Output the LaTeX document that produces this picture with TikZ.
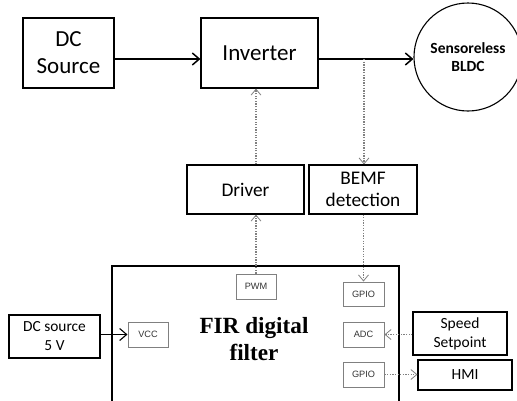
\documentclass[tikz,border=0pt]{standalone}
\usepackage{fontspec}
\setmainfont{Carlito}
\newfontfamily\smallfont{Liberation Sans}
\newfontfamily\firfont{Liberation Serif}
\usetikzlibrary{arrows.meta}
\definecolor{dotgray}{gray}{0.5}
\definecolor{pingray}{gray}{0.5}
\tikzset{
  blk/.style={draw=black, line width=1.1pt, rectangle, inner sep=0pt, align=center, font=\fontsize{19.3}{22}\selectfont},
  pin/.style={draw=pingray, line width=1pt, rectangle, inner sep=0pt, minimum width=41pt, minimum height=25pt, font=\smallfont\fontsize{9.2}{10}\selectfont, text=black!80},
  power/.style={draw=black, line width=1.5pt, -{Straight Barb[length=7pt, width=12pt, line width=1.5pt]}},
  thin power/.style={draw=black, line width=1.1pt, -{Straight Barb[length=7pt, width=12pt, line width=1.1pt]}},
  sig/.style={draw=dotgray, line width=1.1pt, dash pattern=on 1.3pt off 1.3pt, -{Straight Barb[length=6pt, width=10pt, line width=0.8pt]}},
}
\begin{document}
\begin{tikzpicture}[x=1pt,y=-1pt]
\useasboundingbox (0,0) rectangle (517,400);
\clip (0,0) rectangle (517,400);
% top row
\node[blk, minimum width=91pt, minimum height=70pt, font=\fontsize{23}{27}\selectfont] (dc) at (68.5,53) {DC\\Source};
\node[blk, minimum width=117pt, minimum height=70pt, font=\fontsize{23}{27}\selectfont] (inv) at (259.5,53) {Inverter};
\node[draw=black, line width=1.1pt, circle, minimum size=108pt, inner sep=0pt, align=center, font=\bfseries\fontsize{15.5}{18}\selectfont] (bldc) at (468,57) {Sensoreless\\BLDC};
% middle row
\node[blk, minimum width=117pt, minimum height=49pt] (drv) at (245.5,189.5) {Driver};
\node[blk, minimum width=108pt, minimum height=49pt] (bemf) at (363,189.5) {BEMF\\detection};
% FIR board
\draw[line width=2pt] (112,430) -- (112,266) coordinate (fir nw) -- (399,266) coordinate (fir ne) -- (399,430);
\node[align=center, font=\firfont\bfseries\fontsize{23.2}{27}\selectfont] (fir) at (254,339) {FIR digital\\filter};
\node[pin, minimum width=40pt] (pwm) at (256,286.5) {PWM};
\node[pin, minimum height=24pt] (gpio1) at (363.5,294) {GPIO};
\node[pin] (adc) at (363.5,334.5) {ADC};
\node[pin] (gpio2) at (363.5,374.5) {GPIO};
\node[pin, minimum width=40pt] (vcc) at (148,334.5) {VCC};
% external boxes
\node[blk, minimum width=91pt, minimum height=43pt, font=\fontsize{15.4}{19}\selectfont] (dc5) at (54.5,336.5) {DC source\\5 V};
\node[blk, minimum width=94pt, minimum height=43pt, font=\fontsize{15.5}{19}\selectfont] (speed) at (460,333.5) {Speed\\Setpoint};
\node[blk, minimum width=94pt, minimum height=30pt, font=\fontsize{15.5}{19}\selectfont] (hmi) at (465,375) {HMI};
% power arrows
\draw[power] ([yshift=-6pt]dc.east) -- ([yshift=-6pt]inv.west);
\coordinate (tap) at (364,59);
\draw[power] ([yshift=-6pt]inv.east) -- (bldc.west |- tap);
\draw[thin power] (dc5.east |- vcc.west) -- (vcc.west);
% signal arrows
\draw[sig] (pwm.north) -- (pwm.north |- drv.south);
\draw[sig] (drv.north -| pwm.north) -- (inv.south -| pwm.north);
\draw[sig] (tap) -- (tap |- bemf.north);
\draw[sig] (bemf.south -| gpio1.north) -- (gpio1.north);
\draw[sig] (speed.west |- adc.east) -- (adc.east);
\draw[sig] (gpio2.east) -- (hmi.west |- gpio2.east);
\end{tikzpicture}
\end{document}
